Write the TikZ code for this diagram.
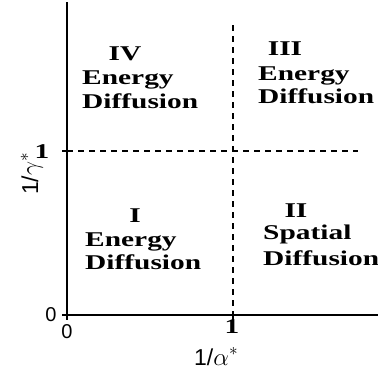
\documentclass[tikz,border=0pt]{standalone}
\usepackage{fontspec}
\newfontfamily\lblfont{Liberation Serif}[FakeStretch=1.4]
\newfontfamily\axfont{Liberation Sans}
\begin{document}
\begin{tikzpicture}[x=1pt,y=-1pt,
  lbl/.style={font=\lblfont\bfseries\fontsize{21}{24}\selectfont, inner sep=0pt, anchor=base west},
  lblc/.style={lbl, anchor=base},
  ax/.style={font=\axfont\fontsize{20}{22}\selectfont, inner sep=0pt},
  axl/.style={font=\axfont\fontsize{23}{26}\selectfont, inner sep=0pt, anchor=base west},
  axis/.style={line width=1.3pt},
  dashline/.style={line width=1.1pt, dash pattern=on 6pt off 5pt},
  tick/.style={line width=1.1pt}]
\useasboundingbox (0,0) rectangle (378,372);
% axes
\coordinate (O) at (67,315);
\coordinate (ytop) at (67,2);
\coordinate (xend) at (378,315);
\coordinate (y1) at (67,151);
\coordinate (y1end) at (358,151);
\coordinate (x1) at (233,315);
\coordinate (x1top) at (233,25);
\draw[axis] (ytop) -- (O) -- (xend);
\draw[dashline] (y1) -- (y1end);
\draw[dashline] (x1top) -- (x1);
\draw[tick] (O) -- ++(-5,0);
\draw[tick] (O) -- ++(0,5);
\draw[tick] (y1) -- ++(-5,0);
\draw[tick] (x1) -- ++(0,5);
% tick labels
\node[ax] (z1) at (51,315) {0};
\node[ax] (z2) at (67,332) {0};
\node[lbl, anchor=center] (one1) at (42,152) {1};
\node[lbl, anchor=center] (one2) at (232,327) {1};
\node[axl] (xl) at (194,365) {1/$\alpha^{\ast}$};
\node[axl, rotate=90] (yl) at (38,195) {1/$\gamma^{\ast}$};
% quadrant IV
\node[lblc] (q4a) at (125,60) {IV};
\node[lbl] (q4b) at (82,84) {Energy};
\node[lbl] (q4c) at (82,108) {Diffusion};
% quadrant III
\node[lblc] (q3a) at (285,55) {III};
\node[lbl] (q3b) at (258,80) {Energy};
\node[lbl] (q3c) at (258,103) {Diffusion};
% quadrant I
\node[lblc] (q1a) at (135,222) {I};
\node[lbl] (q1b) at (85,246) {Energy};
\node[lbl] (q1c) at (85,269) {Diffusion};
% quadrant II
\node[lblc] (q2a) at (296,217) {II};
\node[lbl] (q2b) at (263,239) {Spatial};
\node[lbl] (q2c) at (263,265) {Diffusion};
\end{tikzpicture}
\end{document}
